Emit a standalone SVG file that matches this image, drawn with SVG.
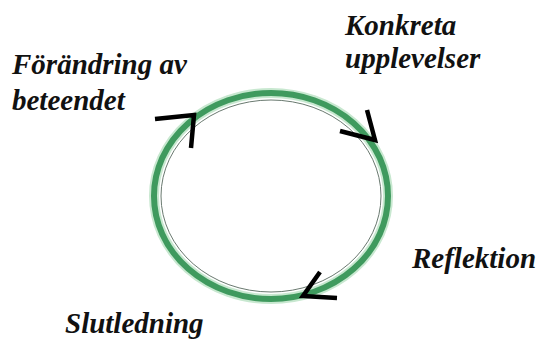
<svg xmlns="http://www.w3.org/2000/svg" width="547" height="342" viewBox="0 0 547 342">
<style>
.arr{fill:none;stroke:#000;stroke-width:4.5;stroke-linejoin:miter;stroke-linecap:butt}
</style>
<rect width="547" height="342" fill="#fff"/>
<g id="cycle">
<ellipse cx="271" cy="196" rx="117" ry="103" fill="none" stroke="#c8e8d0" stroke-width="10"/>
<ellipse cx="271" cy="196" rx="117" ry="103" fill="none" stroke="#3f9a5e" stroke-width="6"/>
<ellipse cx="271" cy="196" rx="110" ry="96" fill="none" stroke="#6a7a70" stroke-width="1"/>
</g>
<g id="connectors">
<path class="arr" d="M155,119 L194,115 L191,148"/>
<path class="arr" d="M340,131 L375,140 L367,110"/>
<path class="arr" d="M320,272 L303,296 L337,298"/>
</g>
<g id="n1"><text x="12" y="74" font-family="Liberation Serif" font-weight="bold" font-style="italic" font-size="29" fill="#111">Förändring av</text><text x="12" y="110" font-family="Liberation Serif" font-weight="bold" font-style="italic" font-size="29" fill="#111">beteendet</text></g>
<g id="n2"><text x="345" y="35" font-family="Liberation Serif" font-weight="bold" font-style="italic" font-size="29" fill="#111">Konkreta</text><text x="345" y="68" font-family="Liberation Serif" font-weight="bold" font-style="italic" font-size="29" fill="#111">upplevelser</text></g>
<g id="n3"><text x="412" y="268" font-family="Liberation Serif" font-weight="bold" font-style="italic" font-size="29" fill="#111">Reflektion</text></g>
<g id="n4"><text x="65" y="333" font-family="Liberation Serif" font-weight="bold" font-style="italic" font-size="29" fill="#111">Slutledning</text></g>
</svg>
